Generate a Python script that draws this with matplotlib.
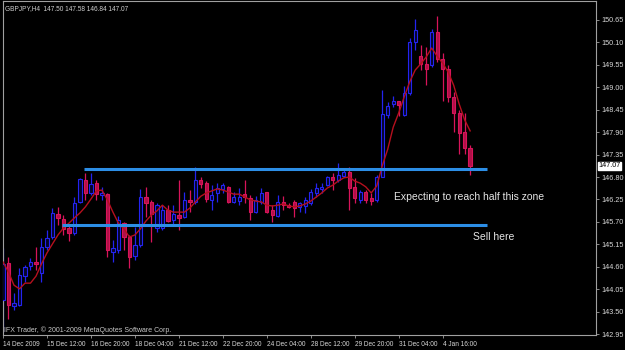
import matplotlib.pyplot as plt
import matplotlib.transforms as mtransforms

# GBPJPY H4 candles
opens = [143.78, 144.69, 143.65, 143.67, 144.37, 144.62, 144.72, 144.45, 145.08, 145.33,
         145.89, 145.77, 145.55, 145.43, 146.19, 146.73, 146.41, 146.65, 146.36, 146.38,
         144.96, 145.01, 145.67, 145.33, 144.86, 145.13, 146.31, 146.19, 145.55, 145.55,
         145.99, 145.75, 145.87, 145.82, 146.24, 146.19, 146.73, 146.65, 146.24, 146.41,
         146.51, 146.56, 146.19, 146.21, 146.38, 146.29, 145.94, 146.19, 146.43, 145.99,
         145.85, 146.19, 146.11, 146.19, 146.07, 146.09, 146.16, 146.41, 146.51, 146.60,
         146.80, 146.73, 146.82, 146.92, 146.56, 146.24, 146.43, 146.29, 146.24, 146.80,
         148.32, 148.59, 148.66, 148.32, 148.86, 150.11, 149.76, 149.57, 149.54, 150.35,
         149.69, 149.45, 148.76, 148.37, 147.90, 147.50]
highs = [145.06, 144.84, 143.96, 144.57, 144.64, 144.81, 145.08, 145.30, 145.50, 146.04,
         146.07, 145.87, 145.65, 146.31, 146.78, 146.90, 146.90, 146.73, 146.56, 146.41,
         145.25, 145.85, 145.70, 145.38, 145.58, 146.51, 146.56, 146.24, 146.16, 146.11,
         146.11, 146.11, 146.73, 146.43, 146.48, 147.05, 146.80, 146.70, 146.60, 146.65,
         146.65, 146.58, 146.43, 146.53, 146.73, 146.36, 146.33, 146.53, 146.43, 146.11,
         146.36, 146.33, 146.16, 146.24, 146.19, 146.31, 146.51, 146.65, 146.65, 146.82,
         146.90, 147.14, 147.02, 147.05, 146.78, 146.48, 146.48, 146.41, 146.85, 148.93,
         148.64, 148.78, 148.66, 149.03, 150.20, 150.67, 150.03, 149.98, 150.43, 150.74,
         149.84, 149.54, 148.88, 148.44, 148.37, 147.58]
lows = [143.01, 143.31, 143.55, 143.65, 144.23, 144.52, 144.52, 144.23, 145.01, 145.28,
        145.62, 145.38, 145.23, 145.38, 146.16, 146.24, 146.36, 146.24, 146.24, 144.84,
        144.72, 144.94, 145.01, 144.57, 144.76, 145.08, 145.82, 145.21, 145.45, 145.50,
        145.70, 145.62, 145.50, 145.80, 145.94, 146.14, 146.53, 146.19, 145.99, 146.19,
        146.41, 146.16, 146.16, 146.11, 146.16, 145.75, 145.92, 146.14, 145.92, 145.70,
        145.82, 145.99, 146.04, 145.82, 145.94, 145.92, 146.11, 146.31, 146.41, 146.58,
        146.48, 146.68, 146.80, 145.99, 146.16, 146.16, 146.16, 146.11, 146.19, 146.80,
        148.24, 148.51, 148.29, 148.29, 148.81, 149.91, 149.42, 149.05, 149.50, 149.62,
        148.66, 148.64, 147.90, 147.36, 147.36, 146.84]
closes = [144.67, 143.67, 143.72, 144.40, 144.59, 144.72, 144.67, 145.08, 145.30, 145.92,
          145.80, 145.53, 145.43, 146.16, 146.75, 146.41, 146.63, 146.38, 146.41, 145.01,
          145.06, 145.75, 145.33, 144.84, 145.13, 146.31, 146.16, 145.89, 146.11, 145.99,
          145.72, 145.89, 145.80, 146.24, 146.19, 146.73, 146.63, 146.26, 146.36, 146.53,
          146.60, 146.19, 146.31, 146.31, 146.31, 145.94, 146.24, 146.41, 145.94, 145.87,
          146.19, 146.11, 146.07, 146.04, 146.16, 146.24, 146.43, 146.53, 146.56, 146.80,
          146.73, 146.85, 146.92, 146.53, 146.29, 146.43, 146.24, 146.21, 146.80, 148.34,
          148.54, 148.66, 148.56, 148.86, 150.11, 150.40, 149.57, 149.45, 150.35, 149.69,
          149.45, 148.76, 148.37, 147.88, 147.51, 147.07]
ma = [144.72, 144.47, 144.15, 144.06, 144.20, 144.20, 144.37, 144.67, 144.94, 145.16,
      145.38, 145.55, 145.67, 145.80, 145.92, 146.07, 146.26, 146.46, 146.48, 146.24,
      145.94, 145.67, 145.53, 145.33, 145.38, 145.53, 145.72, 145.87, 145.97, 146.11,
      145.99, 145.94, 145.94, 145.94, 146.04, 146.19, 146.33, 146.41, 146.46, 146.51,
      146.48, 146.43, 146.38, 146.38, 146.31, 146.24, 146.21, 146.19, 146.11, 146.09,
      146.11, 146.14, 146.09, 146.07, 146.09, 146.14, 146.21, 146.31, 146.41, 146.53,
      146.60, 146.70, 146.78, 146.80, 146.70, 146.65, 146.56, 146.41, 146.58, 147.07,
      147.48, 148.02, 148.37, 148.76, 149.13, 149.42, 149.57, 149.74, 149.96, 149.76,
      149.59, 149.37, 149.05, 148.59, 148.20, 147.93]

time_labels = ["14 Dec 2009", "15 Dec 12:00", "16 Dec 20:00", "18 Dec 04:00", "21 Dec 12:00",
               "22 Dec 20:00", "24 Dec 04:00", "28 Dec 12:00", "29 Dec 20:00", "31 Dec 04:00",
               "4 Jan 16:00"]
label_bars = [0, 8, 16, 24, 32, 40, 48, 56, 64, 72, 80]

price_ticks = [142.95, 143.50, 144.05, 144.60, 145.15, 145.70, 146.25, 146.80,
               147.35, 147.90, 148.45, 149.00, 149.55, 150.10, 150.65]

zone_top = 147.00
zone_bottom = 145.62

plt.rcParams['font.family'] = ['Liberation Sans', 'DejaVu Sans']

fig = plt.figure(figsize=(6.25, 3.5), dpi=100, facecolor='black')
ax = fig.add_axes([0.0048, 0.0429, 0.9488, 0.954])
ax.set_facecolor('black')

bull_c = '#2424F0'
bear_c = '#D8145A'

for i in range(len(opens)):
    o, h, l, c = opens[i], highs[i], lows[i], closes[i]
    up = c >= o
    col = bull_c if up else bear_c
    ax.vlines(i, l, h, color=col, lw=0.9, zorder=2)
    bottom = min(o, c)
    height = max(abs(c - o), 0.03)
    ax.bar(i, height, bottom=bottom, width=0.6,
           facecolor='#05052a' if up else '#b01048',
           edgecolor=col, lw=0.8, zorder=3)

ax.plot(range(len(ma)), ma, color='#B5101E', lw=1.0, zorder=4)

ax.hlines(zone_top, 14.8, 88.1, color='#2C8EE6', lw=2.2, zorder=5)
ax.hlines(zone_bottom, 10.8, 88.1, color='#2C8EE6', lw=2.2, zorder=5)

ax.text(71.2, 146.32, "Expecting to reach half this zone", color='#E6E6E6',
        fontsize=7.5, va='center', ha='left', zorder=6)
ax.text(85.5, 145.32, "Sell here", color='#E6E6E6',
        fontsize=7.5, va='center', ha='left', zorder=6)

ax.set_xlim(0.05, 107.9)
ax.set_ylim(142.93, 151.11)

for s in ax.spines.values():
    s.set_color('#A0A0A0')
    s.set_linewidth(0.8)

ax.yaxis.tick_right()
ax.set_yticks(price_ticks)
ax.set_yticklabels(["%.2f" % p for p in price_ticks])
ax.set_xticks(label_bars)
ax.set_xticklabels(time_labels, ha='left')
ax.tick_params(axis='both', colors='#A0A0A0', labelcolor='#D8D8D8',
               length=2.5, width=0.6, pad=1.5)
ax.tick_params(axis='x', labelsize=4.7)
ax.tick_params(axis='y', labelsize=5.2)

ax.text(0.004, 0.988, "GBPJPY,H4  147.50 147.58 146.84 147.07", transform=ax.transAxes,
        color='#D0D0D0', fontsize=4.7, va='top', ha='left')
ax.text(0.001, 0.004, "IFX Trader, \u00a9 2001-2009 MetaQuotes Software Corp.",
        transform=ax.transAxes, color='#C8C8C8', fontsize=5.0, va='bottom', ha='left')

trans = mtransforms.blended_transform_factory(ax.transAxes, ax.transData)
ax.text(1.004, closes[-1], "%.2f" % closes[-1], transform=trans, color='black',
        fontsize=5.2, va='center', ha='left',
        bbox=dict(facecolor='white', edgecolor='white', pad=0.6), zorder=7)

fig.savefig('out.png', dpi=100, facecolor='black')
